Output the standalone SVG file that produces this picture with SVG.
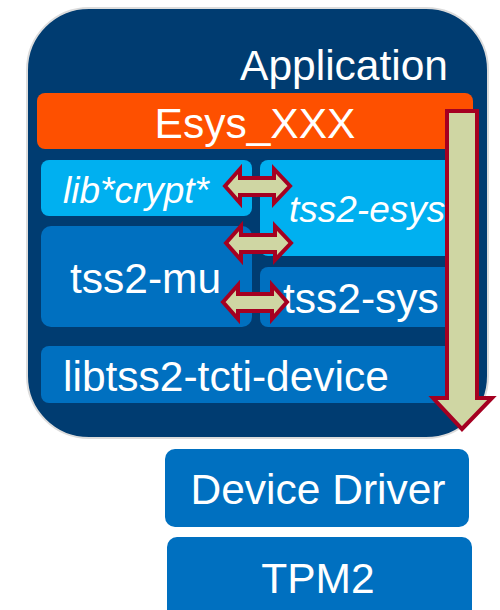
<svg xmlns="http://www.w3.org/2000/svg" width="500" height="610" viewBox="0 0 500 610">
<defs>
<style>
.t{font-family:"Liberation Sans",Arial,sans-serif;fill:#fff;font-size:42.5px}
.i{font-style:italic;font-size:37px}
.dark{fill:#0070c0}
.light{fill:#00b0f0}
.arr{fill:#cfd6a3;stroke:#a50021;stroke-width:4;stroke-linejoin:miter}
</style>
</defs>
<rect width="500" height="610" fill="#fff"/>
<g id="application">
<rect x="27" y="8" width="461" height="430" rx="62" fill="#003c71" stroke="#dcdcdc" stroke-width="2"/>
<text class="t" x="448" y="80" text-anchor="end">Application</text>
</g>
<g id="esys_xxx">
<rect x="37" y="93" width="436" height="56" rx="8" fill="#fe5000"/>
<text class="t" x="255" y="138" text-anchor="middle">Esys_XXX</text>
</g>
<g id="libcrypt">
<rect class="light" x="41" y="160" width="211" height="56" rx="8"/>
<text class="t i" x="63" y="203">lib*crypt*</text>
</g>
<g id="tss2-esys">
<rect class="light" x="260" y="160" width="200" height="96" rx="8"/>
<text class="t i" x="289" y="222">tss2-esys</text>
</g>
<g id="tss2-mu">
<rect class="dark" x="41" y="226" width="211" height="101" rx="10"/>
<text class="t" x="70" y="293">tss2-mu</text>
</g>
<g id="tss2-sys">
<rect class="dark" x="260" y="267" width="200" height="60" rx="8"/>
<text class="t" x="283" y="313">tss2-sys</text>
</g>
<g id="libtss2-tcti-device">
<rect class="dark" x="41" y="346" width="419" height="57" rx="8"/>
<text class="t" x="63" y="391">libtss2-tcti-device</text>
</g>
<g id="device-driver">
<rect class="dark" x="165" y="449" width="304" height="78" rx="10"/>
<text class="t" x="318" y="504" text-anchor="middle">Device Driver</text>
</g>
<g id="tpm2">
<rect class="dark" x="167" y="537" width="305" height="90" rx="10"/>
<text class="t" x="318" y="593" text-anchor="middle">TPM2</text>
</g>
<g id="connectors">
<path class="arr" d="M447 111 H477 V398 H492 L462 429 L433 398 H447 Z"/>
<path class="arr" d="M225 186 L240 169 V178 H274 V169 L290 186 L274 203 V195 H240 V203 Z"/>
<path class="arr" d="M226 243 L241 226 V235 H275 V226 L291 243 L275 260 V252 H241 V260 Z"/>
<path class="arr" d="M223 302 L238 285 V294 H272 V285 L287 302 L272 319 V311 H238 V319 Z"/>
</g>
</svg>
